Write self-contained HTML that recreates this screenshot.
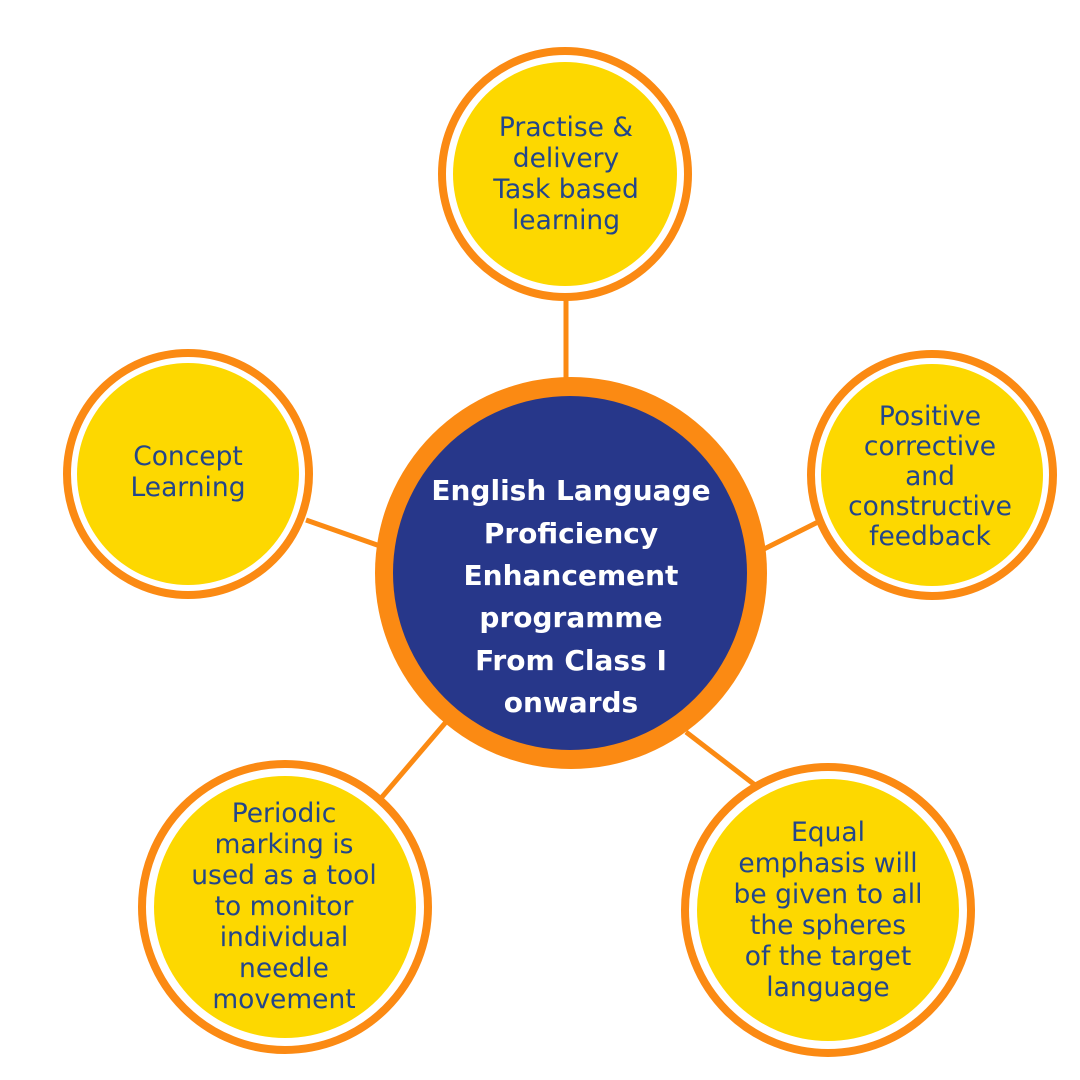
<!DOCTYPE html>
<html><head><meta charset="utf-8"><style>
html,body{margin:0;padding:0;background:#fff;}
svg{display:block}
text{font-family:"DejaVu Sans","Liberation Sans",sans-serif;}
</style></head><body>
<svg width="1080" height="1080" viewBox="0 0 1080 1080" xmlns="http://www.w3.org/2000/svg">
<g stroke="#fb8a13" stroke-width="5">
<line x1="566" y1="300" x2="566" y2="380"/>
<line x1="306" y1="520" x2="380" y2="546"/>
<line x1="762" y1="550" x2="818" y2="522"/>
<line x1="382" y1="797" x2="446" y2="722"/>
<line x1="686" y1="732" x2="755" y2="785"/>
</g>
<circle cx="571" cy="573" r="196" fill="#fb8a13"/>
<circle cx="570" cy="573" r="177" fill="#27378a"/>
<g stroke="#fb8a13" stroke-width="8" fill="#fff">
<circle cx="565" cy="174" r="123"/>
<circle cx="188" cy="474" r="121"/>
<circle cx="932" cy="475" r="121"/>
<circle cx="285" cy="907" r="143"/>
<circle cx="828" cy="910" r="143"/>
</g>
<g fill="#fdd800">
<circle cx="565" cy="174" r="112"/>
<circle cx="188" cy="474" r="111"/>
<circle cx="932" cy="475" r="111"/>
<circle cx="285" cy="907" r="131"/>
<circle cx="828" cy="910" r="131"/>
</g>
<g fill="#23468a" font-size="26.5" text-anchor="middle">
<text x="566" y="136">Practise &amp;</text>
<text x="566" y="167">delivery</text>
<text x="566" y="198">Task based</text>
<text x="566" y="229">learning</text>
<text x="188" y="465">Concept</text>
<text x="188" y="496">Learning</text>
<text x="930" y="425">Positive</text>
<text x="930" y="455">corrective</text>
<text x="930" y="485">and</text>
<text x="930" y="515">constructive</text>
<text x="930" y="545">feedback</text>
<text x="284" y="822">Periodic</text>
<text x="284" y="853">marking is</text>
<text x="284" y="884">used as a tool</text>
<text x="284" y="915">to monitor</text>
<text x="284" y="946">individual</text>
<text x="284" y="977">needle</text>
<text x="284" y="1008">movement</text>
<text x="828" y="841">Equal</text>
<text x="828" y="872">emphasis will</text>
<text x="828" y="903">be given to all</text>
<text x="828" y="934">the spheres</text>
<text x="828" y="965">of the target</text>
<text x="828" y="996">language</text>
</g>
<g fill="#fff" font-size="28" font-weight="bold" text-anchor="middle">
<text x="571" y="500">English Language</text>
<text x="571" y="543">Proficiency</text>
<text x="571" y="585">Enhancement</text>
<text x="571" y="627">programme</text>
<text x="571" y="670">From Class I</text>
<text x="571" y="712">onwards</text>
</g>
</svg>
</body></html>
